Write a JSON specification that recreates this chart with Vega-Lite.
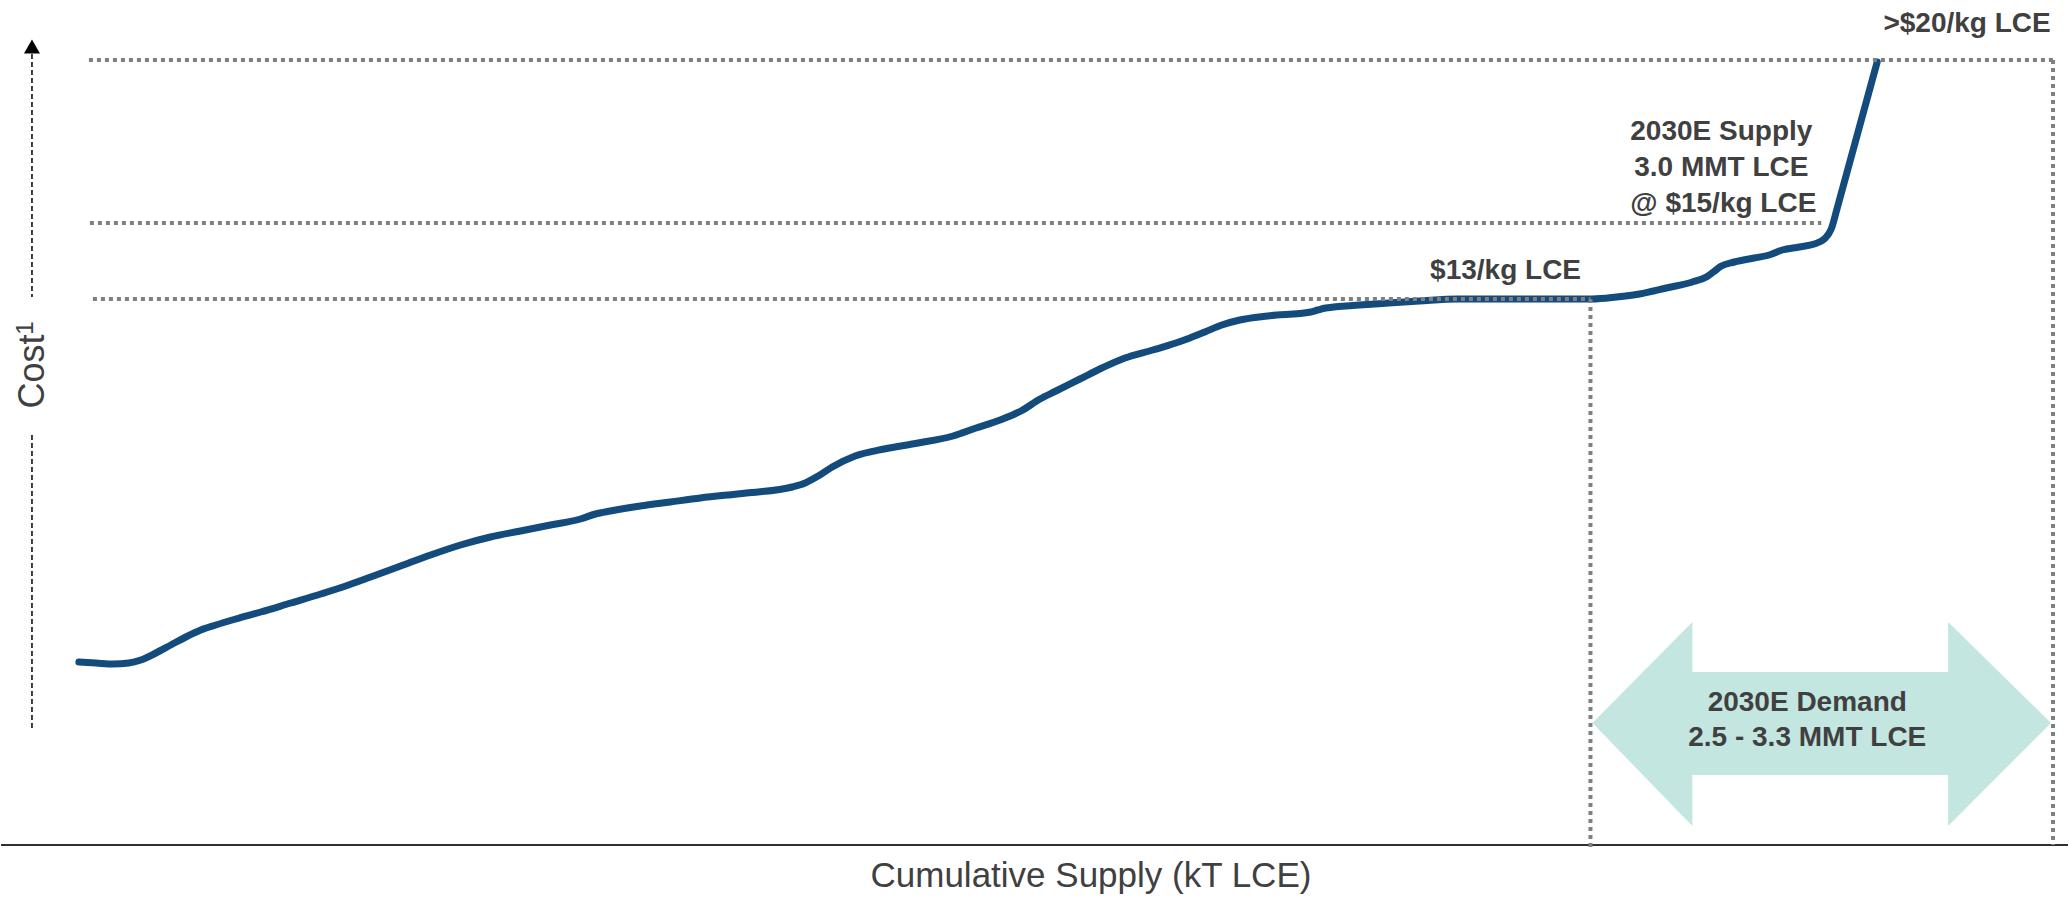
{
  "$schema": "https://vega.github.io/schema/vega-lite/v6.json",
  "width": 2069,
  "height": 902,
  "padding": 0,
  "autosize": {"type": "fit", "contains": "padding"},
  "background": "white",
  "config": {"view": {"stroke": null}},
  "datasets": {
    "curve": [
      {"s": 78, "c": 183}, {"s": 95, "c": 182}, {"s": 112, "c": 181}, {"s": 128, "c": 182},
      {"s": 140, "c": 185}, {"s": 155, "c": 192}, {"s": 170, "c": 200}, {"s": 185, "c": 208},
      {"s": 200, "c": 215}, {"s": 215, "c": 220}, {"s": 235, "c": 226}, {"s": 260, "c": 233},
      {"s": 290, "c": 242}, {"s": 320, "c": 251}, {"s": 345, "c": 259}, {"s": 370, "c": 268},
      {"s": 400, "c": 279}, {"s": 430, "c": 290}, {"s": 460, "c": 300}, {"s": 490, "c": 308},
      {"s": 520, "c": 314}, {"s": 550, "c": 320}, {"s": 580, "c": 326}, {"s": 595, "c": 331},
      {"s": 610, "c": 334}, {"s": 640, "c": 339}, {"s": 670, "c": 343}, {"s": 700, "c": 347},
      {"s": 746, "c": 352}, {"s": 792, "c": 358}, {"s": 805, "c": 362}, {"s": 818, "c": 369},
      {"s": 832, "c": 378}, {"s": 855, "c": 389}, {"s": 884, "c": 396}, {"s": 918, "c": 402},
      {"s": 953, "c": 409}, {"s": 976, "c": 417}, {"s": 1000, "c": 425}, {"s": 1021, "c": 434},
      {"s": 1040, "c": 446}, {"s": 1056, "c": 454}, {"s": 1080, "c": 466}, {"s": 1102, "c": 477},
      {"s": 1125, "c": 487}, {"s": 1153, "c": 495}, {"s": 1176, "c": 502}, {"s": 1190, "c": 507},
      {"s": 1205, "c": 513}, {"s": 1222, "c": 520}, {"s": 1240, "c": 525}, {"s": 1268, "c": 529},
      {"s": 1311, "c": 533}, {"s": 1318, "c": 535}, {"s": 1326, "c": 537}, {"s": 1360, "c": 540},
      {"s": 1389, "c": 542}, {"s": 1420, "c": 544}, {"s": 1458, "c": 546}, {"s": 1504, "c": 546},
      {"s": 1550, "c": 546}, {"s": 1593, "c": 546}, {"s": 1617, "c": 548}, {"s": 1640, "c": 551},
      {"s": 1667, "c": 557}, {"s": 1693, "c": 563}, {"s": 1707, "c": 568}, {"s": 1714, "c": 573},
      {"s": 1722, "c": 579}, {"s": 1735, "c": 583}, {"s": 1755, "c": 587}, {"s": 1770, "c": 590},
      {"s": 1783, "c": 595}, {"s": 1800, "c": 598}, {"s": 1815, "c": 601}, {"s": 1825, "c": 606},
      {"s": 1832, "c": 616}, {"s": 1838, "c": 637}, {"s": 1878, "c": 783}
    ],
    "guides": [
      {"s": 88, "s2": 2055, "c": 785, "c2": 785},
      {"s": 89, "s2": 1822, "c": 622, "c2": 622},
      {"s": 92, "s2": 1591, "c": 546, "c2": 546},
      {"s": 1591, "s2": 1591, "c": 546, "c2": -6},
      {"s": 2054, "s2": 2054, "c": 785, "c2": 0}
    ],
    "yaxis": [
      {"s": 31, "s2": 31, "c": 791, "c2": 548},
      {"s": 31, "s2": 31, "c": 410, "c2": 115}
    ],
    "baseline": [{"s": 0, "s2": 2069, "c": 0, "c2": 0}],
    "arrowtip": [{"s": 31, "c": 798.5}],
    "heads": [
      {"part": "L", "s": 1593, "top": 122, "bottom": 122},
      {"part": "L", "s": 1693, "top": 223, "bottom": 19},
      {"part": "R", "s": 1949, "top": 223, "bottom": 19},
      {"part": "R", "s": 2052, "top": 122, "bottom": 122}
    ],
    "shaft": [{"s": 1690, "s2": 1952, "c": 173, "c2": 70}],
    "boldLabels": [
      {"label": ">$20/kg LCE", "s": 1968, "c": 813},
      {"label": "2030E Supply", "s": 1722, "c": 705},
      {"label": "3.0 MMT LCE", "s": 1722, "c": 669},
      {"label": "@ $15/kg LCE", "s": 1724, "c": 633},
      {"label": "$13/kg LCE", "s": 1506, "c": 566},
      {"label": "2030E Demand", "s": 1808, "c": 134},
      {"label": "2.5 - 3.3 MMT LCE", "s": 1808, "c": 99}
    ],
    "xTitle": [{"label": "Cumulative Supply (kT LCE)", "s": 1091, "c": -42}],
    "yTitle": [{"label": "Cost", "s": 43, "c": 473.5}],
    "yTitleSup": [{"label": "1", "s": 32, "c": 517}]
  },
  "encoding": {
    "x": {"field": "s", "type": "quantitative", "scale": {"domain": [0, 2069], "nice": false, "zero": false}, "axis": null},
    "y": {"field": "c", "type": "quantitative", "scale": {"domain": [-57, 845], "nice": false, "zero": false}, "axis": null}
  },
  "layer": [
    {
      "data": {"name": "heads"},
      "mark": {"type": "area", "color": "#c4e6e1", "opacity": 1, "interpolate": "linear"},
      "encoding": {
        "y": {"field": "top", "type": "quantitative"},
        "y2": {"field": "bottom"},
        "detail": {"field": "part", "type": "nominal"}
      }
    },
    {
      "data": {"name": "shaft"},
      "mark": {"type": "rect", "color": "#c4e6e1"},
      "encoding": {"x2": {"field": "s2"}, "y2": {"field": "c2"}}
    },
    {
      "data": {"name": "baseline"},
      "mark": {"type": "rule", "color": "#303030", "strokeWidth": 2},
      "encoding": {"x2": {"field": "s2"}, "y2": {"field": "c2"}}
    },
    {
      "data": {"name": "curve"},
      "mark": {"type": "line", "color": "#134b7c", "strokeWidth": 7, "strokeCap": "round", "strokeJoin": "round", "interpolate": "monotone"},
      "encoding": {}
    },
    {
      "data": {"name": "guides"},
      "mark": {"type": "rule", "color": "#7f7f7f", "strokeWidth": 4, "strokeDash": [4, 4]},
      "encoding": {"x2": {"field": "s2"}, "y2": {"field": "c2"}}
    },
    {
      "data": {"name": "yaxis"},
      "mark": {"type": "rule", "color": "#000000", "strokeWidth": 1.5, "strokeDash": [5, 3]},
      "encoding": {"x2": {"field": "s2"}, "y2": {"field": "c2"}}
    },
    {
      "data": {"name": "arrowtip"},
      "mark": {"type": "point", "shape": "triangle-up", "size": 256, "filled": true, "color": "#000000", "opacity": 1}
    },
    {
      "data": {"name": "boldLabels"},
      "mark": {"type": "text", "font": "Liberation Sans", "fontWeight": "bold", "fontSize": 28, "color": "#404040", "align": "center", "baseline": "alphabetic"},
      "encoding": {"text": {"field": "label", "type": "nominal"}}
    },
    {
      "data": {"name": "xTitle"},
      "mark": {"type": "text", "font": "Liberation Sans", "fontSize": 35, "color": "#404040", "align": "center", "baseline": "alphabetic"},
      "encoding": {"text": {"field": "label", "type": "nominal"}}
    },
    {
      "data": {"name": "yTitle"},
      "mark": {"type": "text", "font": "Liberation Sans", "fontSize": 36, "color": "#404040", "align": "center", "baseline": "alphabetic", "angle": 270},
      "encoding": {"text": {"field": "label", "type": "nominal"}}
    },
    {
      "data": {"name": "yTitleSup"},
      "mark": {"type": "text", "font": "Liberation Sans", "fontSize": 24, "color": "#404040", "align": "center", "baseline": "alphabetic", "angle": 270},
      "encoding": {"text": {"field": "label", "type": "nominal"}}
    }
  ]
}
